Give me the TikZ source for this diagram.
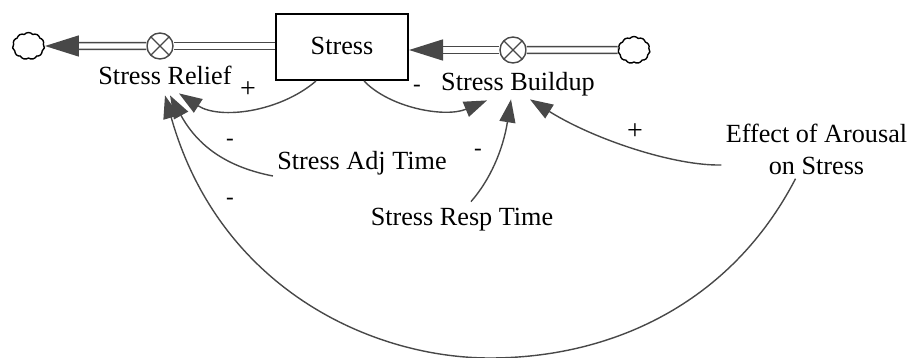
\documentclass[tikz,border=0pt]{standalone}
\usepackage{fontspec}
\setmainfont{Liberation Serif}
\usetikzlibrary{arrows.meta,shapes.symbols}
\definecolor{linegray}{HTML}{484848}
\tikzset{
	label/.style={font=\fontsize{13.1}{16}\selectfont, inner sep=2pt, text height=10pt, text depth=2pt},
	stock/.style={label, draw=black, line width=1pt, minimum width=66pt, minimum height=33pt, inner sep=0pt},
	sign/.style={font=\fontsize{11.5}{14}\selectfont, inner sep=0pt},
	plussign/.style={font=\fontsize{14}{16}\selectfont, inner sep=0pt},
	valve/.style={circle, draw=linegray, fill=white, line width=.7pt, minimum size=13pt, inner sep=0pt,
		path picture={\draw[linegray, line width=.7pt] (path picture bounding box.north west) -- (path picture bounding box.south east)
			(path picture bounding box.north east) -- (path picture bounding box.south west);}},
	sink/.style={cloud, cloud puffs=11, cloud puff arc=100, aspect=1.15, draw=black, line width=.7pt, minimum width=16pt, minimum height=13.5pt, inner sep=0pt},
	pipe/.style={draw=linegray, double=white, double distance=2.6pt, line width=.8pt},
	pipetip/.style={-{Triangle[length=17pt,width=10.5pt,color=linegray]}},
	link/.style={draw=linegray, line width=.7pt, -{Triangle[length=11.5pt,width=8pt,color=linegray]}}
}
\begin{document}
\begin{tikzpicture}[x=0.5pt,y=-0.5pt]
	\useasboundingbox (0,0) rectangle (907,358);
	\node[stock] (stress) at (342,47) {Stress};
	\node[valve] (reliefvalve) at (160,46) {};
	\node[valve] (buildupvalve) at (513,50) {};
	\node[sink] (leftcloud) at (28.5,46) {};
	\node[sink] (rightcloud) at (634,50) {};
	\node[label] (relief) at (165,77) {Stress Relief};
	\node[label] (buildup) at (518,83) {Stress Buildup};
	\node[label] (adjtime) at (362,162) {Stress Adj Time};
	\node[label] (resptime) at (462,218) {Stress Resp Time};
	\node[font=\fontsize{13.1}{16}\selectfont, align=center, inner sep=2pt] (arousal) at (816.5,149) {Effect of Arousal\\on Stress};
	\draw[pipe] (reliefvalve -| stress.west) -- (reliefvalve);
	\draw[pipe, pipetip] (reliefvalve) -- (leftcloud.east);
	\draw[pipe] (rightcloud.west) -- (buildupvalve);
	\draw[pipe, pipetip] (buildupvalve) -- (buildupvalve -| stress.east);
	\draw[link] ([xshift=-13pt]stress.south) .. controls (280,112) and (220,120) .. ([xshift=7pt]relief.south);
	\draw[link] ([xshift=11pt]stress.south) .. controls (390,108) and (445,118) .. ([xshift=-15.5pt,yshift=-.5pt]buildup.south);
	\draw[link] ([yshift=-7pt]adjtime.west) .. controls (232,168) and (200,150) .. ([xshift=2.5pt,yshift=-1pt]relief.south);
	\draw[link] ([xshift=4.5pt]resptime.north) .. controls (490,180) and (503,150) .. ([xshift=-3.5pt]buildup.south);
	\draw[link] ([yshift=-8pt]arousal.west) .. controls (675,166) and (595,140) .. ([xshift=6pt]buildup.south);
	\draw[link] ([xshift=-10.5pt]arousal.south) .. controls (730,305) and (610,358) .. (490,358) .. controls (370,358) and (219,287) .. ([yshift=-1pt]relief.south);
	\node[plussign] (signa) at (248,90) {+};
	\node[sign] (signb) at (230,142) {-};
	\node[sign] (signc) at (230,201) {-};
	\node[sign] (signd) at (417,88) {-};
	\node[sign] (signe) at (478,152) {-};
	\node[plussign] (signf) at (635,132) {+};
\end{tikzpicture}
\end{document}
